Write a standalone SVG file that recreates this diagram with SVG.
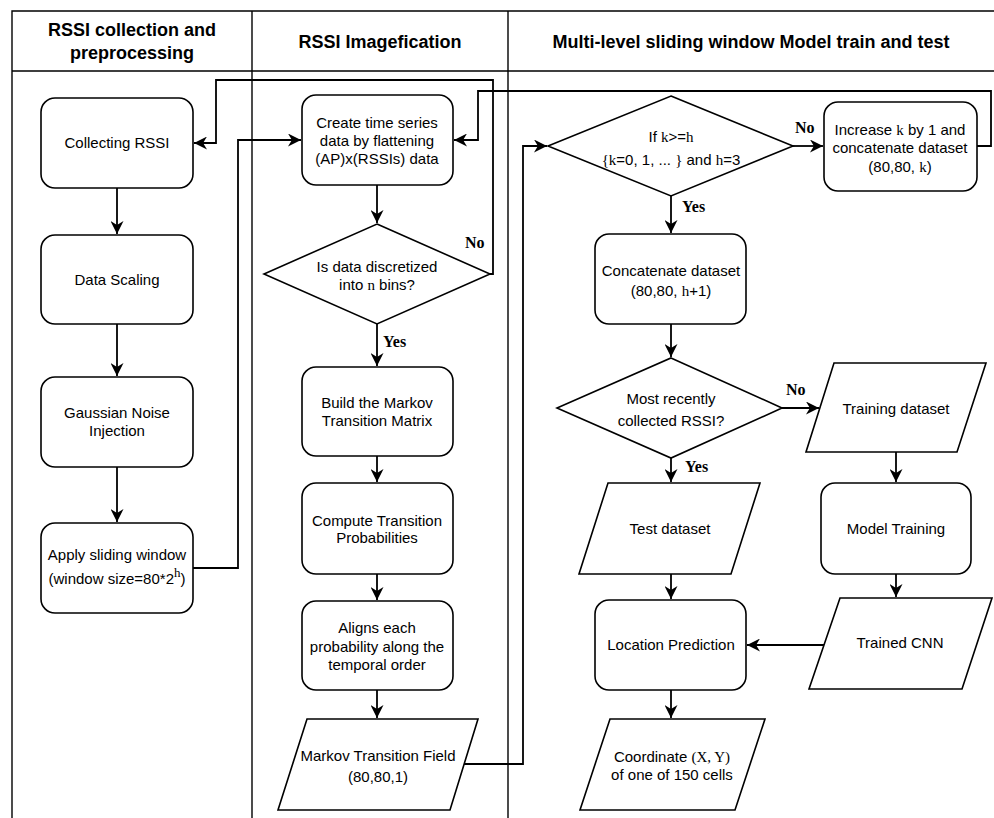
<svg xmlns="http://www.w3.org/2000/svg" width="994" height="818" viewBox="0 0 994 818">
<defs>
<marker id="arr" viewBox="0 0 10 10" refX="10" refY="5" markerWidth="15" markerHeight="13" orient="auto" markerUnits="userSpaceOnUse">
<path d="M0,0 L10,5 L0,10 L3,5 z" fill="#000"/>
</marker>
<style>
.lane{fill:none;stroke:#000;stroke-width:1.4}
.box{fill:#fff;stroke:#000;stroke-width:1.6}
.t{font-family:"Liberation Sans",Arial,sans-serif;font-size:15px;fill:#000;text-anchor:middle}
.h{font-family:"Liberation Sans",Arial,sans-serif;font-size:18px;font-weight:bold;fill:#000;text-anchor:middle}
.m{font-family:"Liberation Serif","Times New Roman",serif}
.lbl{font-family:"Liberation Serif","Times New Roman",serif;font-size:16px;font-weight:bold;fill:#000}
.c{fill:none;stroke:#000;stroke-width:1.8;marker-end:url(#arr)}
</style>
</defs>
<rect width="994" height="818" fill="#fff"/>
<g id="lanes">
<path class="lane" d="M12,818 V11 H994 M12,71 H994 M252,11 V818 M508,11 V818"/>
<text class="h" x="132" y="36">RSSI collection and</text>
<text class="h" x="132" y="59">preprocessing</text>
<text class="h" x="380" y="48">RSSI Imagefication</text>
<text class="h" x="751" y="48">Multi-level sliding window Model train and test</text>
</g>
<g id="connectors">
<path class="c" d="M117,188 V234"/>
<path class="c" d="M117,324 V376"/>
<path class="c" d="M117,467 V522"/>
<path class="c" d="M193,568 H238 V140 H301"/>
<path class="c" d="M490,274 H493 V80 H216 V143 H194"/>
<path class="c" d="M377,185 V223"/>
<path class="c" d="M377,324 V366"/>
<path class="c" d="M377,456 V482"/>
<path class="c" d="M377,574 V600"/>
<path class="c" d="M377,690 V718"/>
<path class="c" d="M464,764 H523 V146 H547"/>
<path class="c" d="M793,146 H823"/>
<path class="c" d="M977,146 H991 V91 H478 V140 H454"/>
<path class="c" d="M671,196 V233"/>
<path class="c" d="M671,324 V357"/>
<path class="c" d="M782,408 H819"/>
<path class="c" d="M671,458 V482"/>
<path class="c" d="M896,452 V482"/>
<path class="c" d="M671,574 V599"/>
<path class="c" d="M896,574 V597"/>
<path class="c" d="M824,645 H747"/>
<path class="c" d="M671,690 V718"/>
<text class="lbl" x="465" y="248">No</text>
<text class="lbl" x="383" y="347">Yes</text>
<text class="lbl" x="795" y="133">No</text>
<text class="lbl" x="682" y="212">Yes</text>
<text class="lbl" x="786" y="395">No</text>
<text class="lbl" x="685" y="472">Yes</text>
</g>
<g id="collecting">
<rect class="box" x="41" y="98" width="152" height="90" rx="14"/>
<text class="t" x="117" y="148">Collecting RSSI</text>
</g>
<g id="scaling">
<rect class="box" x="41" y="235" width="152" height="89" rx="14"/>
<text class="t" x="117" y="285">Data Scaling</text>
</g>
<g id="noise">
<rect class="box" x="41" y="377" width="152" height="90" rx="14"/>
<text class="t" x="117" y="418">Gaussian Noise</text>
<text class="t" x="117" y="436">Injection</text>
</g>
<g id="sliding">
<rect class="box" x="41" y="523" width="152" height="90" rx="14"/>
<text class="t" x="117" y="560">Apply sliding window</text>
<text class="t" x="117" y="584">(window size=80*2<tspan class="m" dy="-7" font-size="13">h</tspan><tspan dy="7">)</tspan></text>
</g>
<g id="create">
<rect class="box" x="302" y="95" width="151" height="90" rx="14"/>
<text class="t" x="377" y="128">Create time series</text>
<text class="t" x="377" y="146">data by flattening</text>
<text class="t" x="377" y="164">(AP)x(RSSIs) data</text>
</g>
<g id="discretized">
<polygon class="box" points="377,224 490,274 377,324 264,274"/>
<text class="t" x="377" y="272">Is data discretized</text>
<text class="t" x="377" y="290">into <tspan class="m">n</tspan> bins?</text>
</g>
<g id="build">
<rect class="box" x="302" y="367" width="151" height="89" rx="14"/>
<text class="t" x="377" y="408">Build the Markov</text>
<text class="t" x="377" y="426">Transition Matrix</text>
</g>
<g id="compute">
<rect class="box" x="302" y="483" width="151" height="91" rx="14"/>
<text class="t" x="377" y="526">Compute Transition</text>
<text class="t" x="377" y="543">Probabilities</text>
</g>
<g id="aligns">
<rect class="box" x="302" y="601" width="151" height="89" rx="14"/>
<text class="t" x="377" y="633">Aligns each</text>
<text class="t" x="377" y="652">probability along the</text>
<text class="t" x="377" y="670">temporal order</text>
</g>
<g id="mtf">
<polygon class="box" points="307,719 478,719 450,810 278,810"/>
<text class="t" x="378" y="761">Markov Transition Field</text>
<text class="t" x="378" y="782">(80,80,1)</text>
</g>
<g id="cond1">
<polygon class="box" points="671,96 793,146 671,196 548,146"/>
<text class="t" x="671" y="142">If <tspan class="m">k</tspan>&gt;=<tspan class="m">h</tspan></text>
<text class="t" x="671" y="165"><tspan class="m">{k</tspan>=0, 1, ... <tspan class="m">}</tspan> and <tspan class="m">h</tspan>=3</text>
</g>
<g id="increase">
<rect class="box" x="824" y="102" width="153" height="89" rx="14"/>
<text class="t" x="900" y="135">Increase <tspan class="m">k</tspan> by 1 and</text>
<text class="t" x="900" y="153">concatenate dataset</text>
<text class="t" x="900" y="172">(80,80, <tspan class="m">k</tspan>)</text>
</g>
<g id="concat">
<rect class="box" x="595" y="234" width="151" height="90" rx="14"/>
<text class="t" x="671" y="276">Concatenate dataset</text>
<text class="t" x="671" y="296">(80,80, <tspan class="m">h</tspan>+1)</text>
</g>
<g id="recent">
<polygon class="box" points="671,358 782,408 671,458 557,408"/>
<text class="t" x="671" y="404">Most recently</text>
<text class="t" x="671" y="426">collected RSSI?</text>
</g>
<g id="training">
<polygon class="box" points="834,363 986,363 957,452 806,452"/>
<text class="t" x="896" y="414">Training dataset</text>
</g>
<g id="test">
<polygon class="box" points="608,483 760,483 731,574 579,574"/>
<text class="t" x="670" y="534">Test dataset</text>
</g>
<g id="modeltraining">
<rect class="box" x="821" y="483" width="150" height="91" rx="14"/>
<text class="t" x="896" y="534">Model Training</text>
</g>
<g id="location">
<rect class="box" x="595" y="600" width="151" height="90" rx="14"/>
<text class="t" x="671" y="650">Location Prediction</text>
</g>
<g id="cnn">
<polygon class="box" points="840,598 992,598 962,689 809,689"/>
<text class="t" x="900" y="648">Trained CNN</text>
</g>
<g id="coordinate">
<polygon class="box" points="610,719 765,719 735,810 580,810"/>
<text class="t" x="672" y="762">Coordinate <tspan class="m">(X, Y)</tspan></text>
<text class="t" x="672" y="780">of one of 150 cells</text>
</g>
</svg>
